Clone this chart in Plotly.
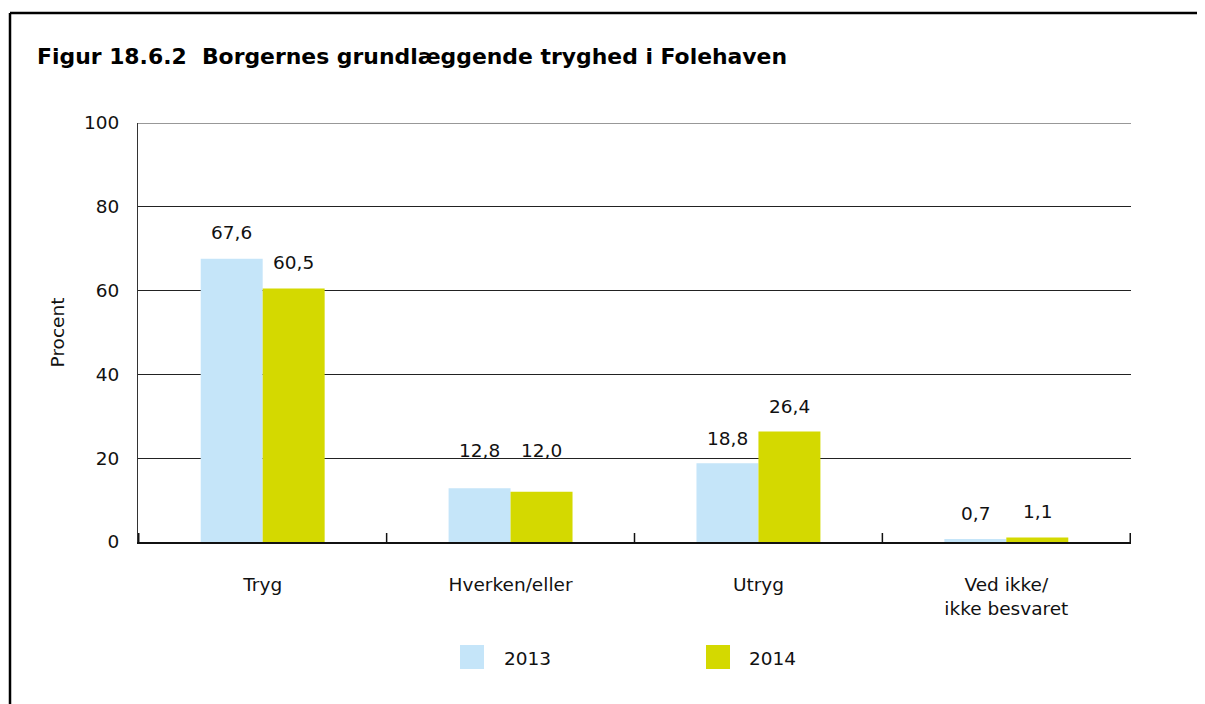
import plotly.graph_objects as go

categories = ["Tryg", "Hverken/eller", "Utryg", "Ved ikke/<br>ikke besvaret"]
series_names = ["2013", "2014"]
values_2013 = [67.6, 12.8, 18.8, 0.7]
values_2014 = [60.5, 12.0, 26.4, 1.1]
labels_2013 = ["67,6", "12,8", "18,8", "0,7"]
labels_2014 = ["60,5", "12,0", "26,4", "1,1"]
y_ticks = [0, 20, 40, 60, 80, 100]

colors = ["#C5E5F9", "#D4D900"]
FONT = "DejaVu Sans"
FS = 18.5

OFF = 8  # page body margin
W, H = 1205 - OFF, 704 - OFF
L, R, T, B = 138 - OFF, 1131 - OFF, 123 - OFF, 542 - OFF

def px(x):  # reference page pixel -> paper
    return (x - OFF - L) / (R - L)

def py(y):
    return (B - (y - OFF)) / (B - T)

fig = go.Figure()
for name, vals, col in zip(series_names, [values_2013, values_2014], colors):
    fig.add_trace(go.Bar(x=categories, y=vals, name=name, marker_color=col,
                         marker_line_width=0, showlegend=False))

# value labels
lift = [26, 38, 25, 26]
for k, (vals, labs) in enumerate([(values_2013, labels_2013), (values_2014, labels_2014)]):
    off = -0.125 if k == 0 else 0.125
    for i, (v, lab) in enumerate(zip(vals, labs)):
        ya = max(vals[i], 0) if i != 1 else max(values_2013[i], values_2014[i])
        fig.add_annotation(x=i + off, y=ya, xref="x", yref="y", text=lab,
                           showarrow=False, yshift=lift[i], yanchor="middle",
                           font=dict(family=FONT, size=FS, color="#111"))

fig.update_layout(
    width=W, height=H,
    margin=dict(l=L, r=W - R, t=T, b=H - B),
    paper_bgcolor="white", plot_bgcolor="white",
    barmode="group", bargap=0.5, bargroupgap=0,
    font=dict(family=FONT, size=FS, color="#111"),
    title=dict(text="<b>Figur 18.6.2  Borgernes grundlæggende tryghed i Folehaven</b>",
               x=(37 - OFF) / W, xanchor="left", y=1 - (56 - OFF) / H, yanchor="middle",
               font=dict(family=FONT, size=21.9, color="#000")),
)
fig.update_yaxes(range=[0, 100], tickvals=y_ticks, ticktext=[str(t) for t in y_ticks],
                 showgrid=True, gridcolor="#222", gridwidth=1, zeroline=False,
                 showline=True, linecolor="#333", linewidth=1, ticks="",
                 ticklabelstandoff=14,
                 title=dict(text="Procent", standoff=14, font=dict(size=FS)),
                 layer="below traces")
fig.update_xaxes(showgrid=False, showline=True, linecolor="#111", linewidth=1.5,
                 ticks="", tickfont=dict(size=FS), ticklabelstandoff=25)

# top gridline at 100
fig.add_shape(type="line", xref="paper", yref="y", x0=0, x1=1, y0=100, y1=100,
              line=dict(color="#333", width=1), layer="below")

# category boundary ticks (inward)
for xb in range(len(categories) + 1):
    fig.add_shape(type="line", xref="x", yref="paper", x0=xb - 0.5, x1=xb - 0.5,
                  y0=0, y1=9 / (B - T), line=dict(color="#111", width=1.5))

# frame
fig.add_shape(type="line", xref="paper", yref="paper", x0=px(10), x1=px(1210), y0=py(13), y1=py(13),
              line=dict(color="#000", width=2.5))
fig.add_shape(type="line", xref="paper", yref="paper", x0=px(10), x1=px(10), y0=py(13), y1=py(710),
              line=dict(color="#000", width=2.5))

# legend
for name, col, x0, xt in [("2013", colors[0], 460, 502), ("2014", colors[1], 706, 747)]:
    fig.add_shape(type="rect", xref="paper", yref="paper", x0=px(x0), x1=px(x0 + 24),
                  y0=py(669), y1=py(645), fillcolor=col, line=dict(width=0))
    fig.add_annotation(xref="paper", yref="paper", x=px(xt), y=py(658), text=name,
                       showarrow=False, xanchor="left", yanchor="middle",
                       font=dict(family=FONT, size=FS, color="#111"))

fig.write_html("out.html")
